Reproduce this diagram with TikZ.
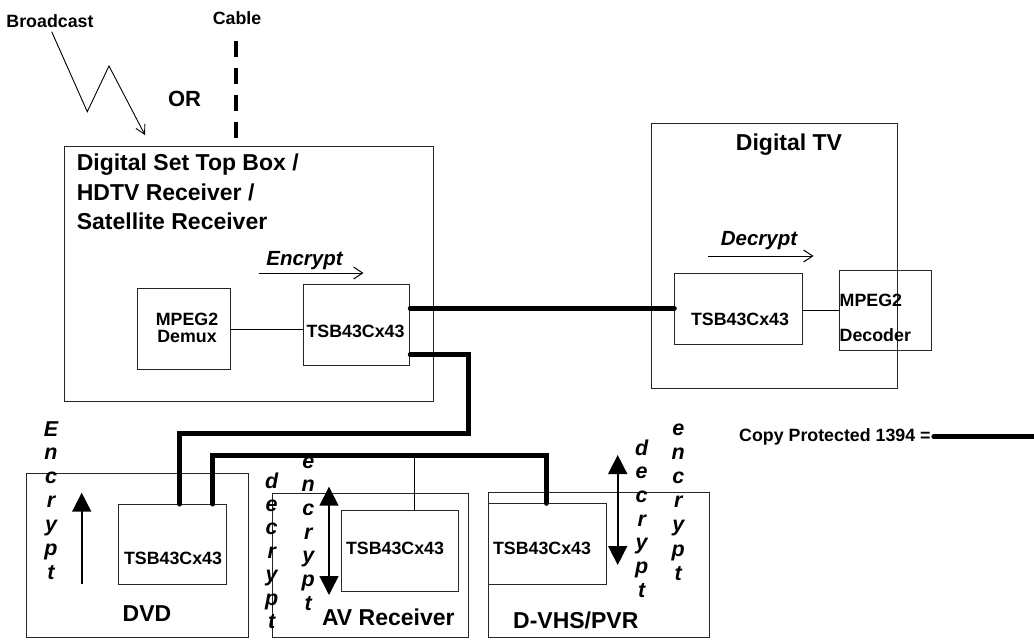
\documentclass[tikz,border=0pt]{standalone}
\usepackage{fontspec}
\setmainfont{Liberation Sans}
\usetikzlibrary{arrows.meta}
\begin{document}
\begin{tikzpicture}[x=1pt,y=-1pt,
  box/.style={draw=black!85, line width=1pt, inner sep=0pt, anchor=north west},
  hdr/.style={font=\fontsize{23}{29}\selectfont\bfseries, inner sep=0pt},
  lbl/.style={font=\fontsize{17.8}{20}\selectfont\bfseries, inner sep=0pt},
  ital/.style={font=\fontsize{20.5}{23}\selectfont\bfseries\itshape, inner sep=0pt},
  vl/.style={font=\fontsize{21.5}{23}\selectfont\bfseries\itshape, inner sep=0pt, anchor=base},
  bus/.style={line width=5pt, line cap=round, line join=miter},
  wire/.style={line width=1pt},
  barb/.style={line width=1pt, -{Straight Barb[length=9pt,width=12pt,line width=1pt]}},
  bigtip/.style={line width=1.6pt, -{Triangle[length=19pt,width=19pt]}},
  bigtips/.style={line width=1.6pt, {Triangle[length=19pt,width=19pt]}-{Triangle[length=19pt,width=19pt]}}
]
\fill[white] (0,0) rectangle (1034,640);
\useasboundingbox (0,0) rectangle (1034,640);

% boxes
\node[box, minimum width=368.7pt, minimum height=255pt] (stb) at (64,145.7) {};
\node[box, minimum width=93.3pt, minimum height=81pt] (demux) at (136.7,288.3) {};
\node[box, minimum width=106pt, minimum height=81pt] (stbtsb) at (303.3,284.3) {};
\node[box, minimum width=246pt, minimum height=265pt] (tv) at (651,123.3) {};
\node[box, minimum width=128pt, minimum height=70.7pt] (tvtsb) at (674.3,273.3) {};
\node[box, minimum width=92pt, minimum height=80pt] (dec) at (839,270) {};
\node[box, minimum width=222.3pt, minimum height=163.7pt] (dvd) at (26,473.3) {};
\node[box, minimum width=107.4pt, minimum height=80pt] (dvdtsb) at (118.3,504) {};
\node[box, minimum width=196pt, minimum height=144.3pt] (av) at (271.7,492.7) {};
\node[box, minimum width=117.6pt, minimum height=80.7pt] (avtsb) at (340.7,510) {};
\node[box, minimum width=221pt, minimum height=145.3pt] (dvhs) at (488.3,491.7) {};
\node[box, minimum width=117.4pt, minimum height=80.7pt] (dvhstsb) at (488.3,503.3) {};

% top texts
\node[lbl, anchor=base] (tbroad) at (50,27.5) {Broadcast};
\node[lbl, anchor=base] (tcable) at (237,24.3) {Cable};
\node[hdr, anchor=base, font=\fontsize{22}{26}\selectfont\bfseries] (tor) at (184.5,106.5) {OR};

% broadcast zigzag
\coordinate (z0) at (51.7,31.7);
\coordinate (z1) at (87.3,111.7);
\coordinate (z2) at (109,66);
\coordinate (z3) at (145,135);
\draw[line width=0.9pt, -{Straight Barb[length=9pt,width=10pt,line width=0.9pt]}] (z0) -- (z1) -- (z2) -- (z3);

% cable dashed
\coordinate (c0) at (235.7,40.7);
\draw[line width=4.2pt, dash pattern=on 16.5pt off 10.5pt] (c0) -- (stb.north -| c0);

% STB texts
\node[hdr, anchor=base west] (h1) at (76.6,170.7) {Digital Set Top Box /};
\node[hdr, anchor=base west] (h2) at (76.6,200) {HDTV Receiver /};
\node[hdr, anchor=base west] (h3) at (76.6,229.3) {Satellite Receiver};
\node[ital, anchor=base] (tenc) at (304.5,265) {Encrypt};
\coordinate (e0) at (259,273);
\coordinate (e1) at (363.5,273);
\draw[barb] (e0) -- (e1);
\node[lbl, anchor=base, text depth=0pt] (tmp1) at (187,325) {MPEG2};
\node[lbl, anchor=base, text depth=0pt] (tmp2) at (187,342.5) {Demux};
\node[lbl, anchor=base] (tstb) at (355.5,337) {TSB43Cx43};

% TV texts
\node[hdr, anchor=base] (ttv) at (789,150) {Digital TV};
\node[ital, anchor=base] (tdecr) at (759,245.6) {Decrypt};
\coordinate (d0) at (708,256);
\coordinate (d1) at (813.5,256);
\draw[barb] (d0) -- (d1);
\node[lbl, anchor=base] (ttvtsb) at (740,325) {TSB43Cx43};
\node[lbl, anchor=base west] (tdec1) at (839.5,306) {MPEG2};
\node[lbl, anchor=base west] (tdec2) at (839.5,341.7) {Decoder};

% bottom texts
\node[lbl, anchor=base] (tdvdtsb) at (173,564) {TSB43Cx43};
\node[hdr, anchor=base] (tdvd) at (147,621) {DVD};
\node[lbl, anchor=base] (tavtsb) at (395,554) {TSB43Cx43};
\node[hdr, anchor=base] (tav) at (388.3,625) {AV Receiver};
\node[lbl, anchor=base] (tdvhstsb) at (542,554) {TSB43Cx43};
\node[hdr, anchor=base] (tdvhs) at (575.8,628) {D-VHS/PVR};

% vertical words
\foreach \ch [count=\i] in {E,n,c,r,y,p,t}
  \node[vl] (ve\i) at (51,436+23.9*\i-23.9) {\ch};
\foreach \ch [count=\i] in {d,e,c,r,y,p,t}
  \node[vl] (vad\i) at (271.7,488+23.4*\i-23.4) {\ch};
\foreach \ch [count=\i] in {e,n,c,r,y,p,t}
  \node[vl] (vae\i) at (308.3,468+23.7*\i-23.7) {\ch};
\foreach \ch [count=\i] in {d,e,c,r,y,p,t}
  \node[vl] (vdd\i) at (641.7,455+23.7*\i-23.7) {\ch};
\foreach \ch [count=\i] in {e,n,c,r,y,p,t}
  \node[vl] (vde\i) at (678.3,435+24.2*\i-24.2) {\ch};

% vertical arrows
\coordinate (a0) at (81.7,584);
\coordinate (a1) at (81.7,492.7);
\draw[bigtip] (a0) -- (a1);
\coordinate (b0) at (329,486.7);
\coordinate (b1) at (329,595);
\draw[bigtips] (b0) -- (b1);
\coordinate (f0) at (617.7,455);
\coordinate (f1) at (617.7,565);
\draw[bigtips] (f0) -- (f1);

% thin wires
\draw[wire] (demux.east) -- (demux.east -| stbtsb.west);
\draw[wire] ([yshift=-1pt]tvtsb.east) -- ([yshift=-1pt]tvtsb.east -| dec.west);

% copy protected buses
\draw[bus] ([yshift=17pt]stbtsb.east) -- ([yshift=17pt]stbtsb.east -| tvtsb.west);
\draw[bus] ([yshift=-29.5pt]stbtsb.east) -- ++(58.2,0) -- ++(0,79) -| ([xshift=7.3pt]dvdtsb.north);
\draw[bus] ([xshift=40.3pt]dvdtsb.north) -- ++(0,-49) -| ([xshift=-1pt]dvhstsb.north);
\draw[wire] ([xshift=14.5pt]avtsb.north) -- ++(0,-55);

% legend
\node[lbl, anchor=base west] (tcopy) at (739,441.7) {Copy Protected 1394 =};
\coordinate (l1) at (1040,436.7);
\draw[bus] ([xshift=3pt,yshift=5pt]tcopy.base east) -- (l1);
\end{tikzpicture}
\end{document}
